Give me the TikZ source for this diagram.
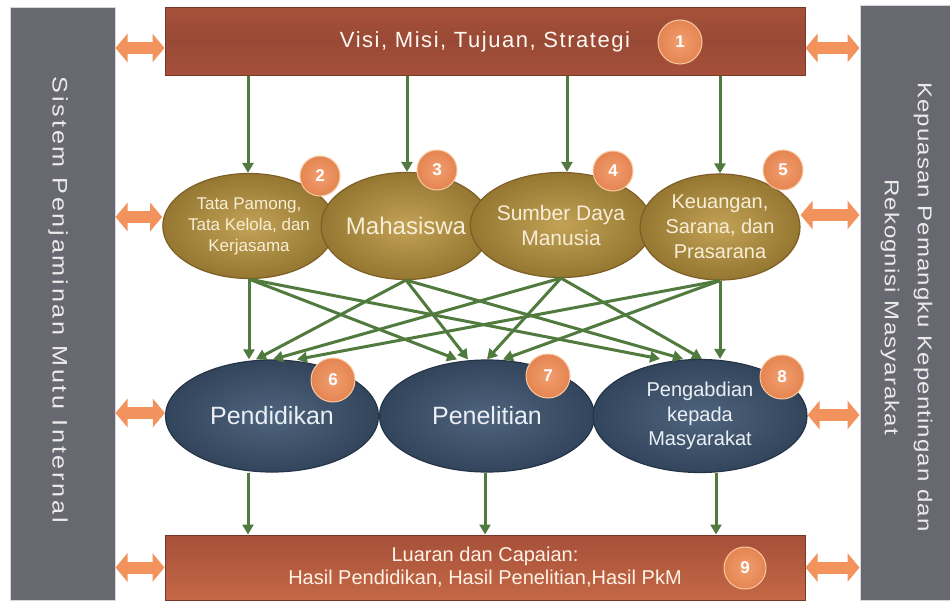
\documentclass[tikz,border=0pt]{standalone}
\usepackage{fontspec}
\setmainfont{Liberation Sans}
\usetikzlibrary{shapes.geometric,arrows.meta,calc}
\definecolor{bargray}{RGB}{104,104,112}
\definecolor{barline}{RGB}{215,215,218}
\definecolor{boxred}{RGB}{166,80,58}
\definecolor{boxredd}{RGB}{120,55,40}
\definecolor{boxredl}{RGB}{196,104,70}
\definecolor{goldf}{RGB}{186,149,62}
\definecolor{goldd}{RGB}{125,95,38}
\definecolor{navyf}{RGB}{63,86,114}
\definecolor{navyd}{RGB}{38,52,72}
\definecolor{badgeor}{RGB}{240,140,86}
\definecolor{badgeli}{RGB}{250,200,160}
\definecolor{flowgreen}{RGB}{80,122,62}
\definecolor{dblor}{RGB}{242,146,92}
\definecolor{cream}{RGB}{248,238,215}
\definecolor{paletx}{RGB}{235,240,246}
\begin{document}
\begin{tikzpicture}[x=1pt,y=-1pt,
  bar/.style={rectangle, fill=bargray, draw=barline, line width=1pt, inner sep=0pt},
  bartext/.style={text=white!92!black, inner sep=0pt},
  redbox/.style={rectangle, draw=boxredd, line width=1pt, inner sep=0pt,
                 top color=boxred, bottom color=boxred, middle color=boxred!92!black},
  goldell/.style={ellipse, draw=goldd, line width=1.2pt, inner sep=0pt, text=cream, align=center,
                  inner color=goldf!88!white, outer color=goldf!80!black},
  navyell/.style={ellipse, draw=navyd, line width=1.2pt, inner sep=0pt, text=paletx, align=center,
                  inner color=navyf!92!white, outer color=navyf!80!black},
  badge/.style={circle, draw=badgeli, line width=1pt, text=white, inner sep=0pt, minimum size=42pt,
                inner color=badgeor!85!white, outer color=badgeor!95!black,
                font=\bfseries\fontsize{17}{17}\selectfont},
  flow/.style={draw=flowgreen, line width=3pt, -{Triangle[width=11pt,length=10pt]}},
  dbl/.style={draw=dblor, line width=12pt, {Triangle[width=28pt,length=12pt]}-{Triangle[width=28pt,length=12pt]}}
]
\useasboundingbox[fill=white] (0,0) rectangle (950,602);

% side bars
\node[bar, minimum width=105pt, minimum height=592pt] (L) at (62.5,304) {};
\node[bar, minimum width=92pt, minimum height=594pt] (R) at (906,303) {};
\node[bartext, rotate=-90, font=\fontsize{21}{24}\selectfont] (Lt) at (58,300)
  {\addfontfeature{LetterSpace=11}\scalebox{1.2}[1]{Sistem Penjaminan Mutu Internal}};
\node[bartext, rotate=-90, align=center, font=\fontsize{20}{33}\selectfont] (Rt) at (906.5,307)
  {\addfontfeature{LetterSpace=4.5}\scalebox{1.2}[1]{Kepuasan Pemangku Kepentingan dan}\\
   \addfontfeature{LetterSpace=4.5}\scalebox{1.2}[1]{Rekognisi Masyarakat}};

% top and bottom boxes
\node[redbox, minimum width=640pt, minimum height=67pt, text=white!95!orange,
      font=\fontsize{22}{24}\selectfont] (V) at (485,41.5)
  {\addfontfeature{LetterSpace=7}Visi, Misi, Tujuan, Strategi};
\node[redbox, minimum width=640pt, minimum height=65pt, align=center, text=white!90!orange,
      bottom color=boxredl, font=\fontsize{20}{23}\selectfont] (B) at (485,567.5)
  {Luaran dan Capaian:\\Hasil Pendidikan, Hasil Penelitian,Hasil PkM};

% first row
\node[goldell, minimum width=162pt, minimum height=105pt, font=\fontsize{17}{21}\selectfont] (E2) at (249,226)
  {Tata Pamong,\\Tata Kelola, dan\\Kerjasama};
\node[goldell, minimum width=148pt, minimum height=107pt, font=\fontsize{24}{28}\selectfont] (E3) at (406,226)
  {Mahasiswa};
\node[goldell, minimum width=164pt, minimum height=105pt, font=\fontsize{21}{25}\selectfont] (E4) at (561,225)
  {Sumber Daya\\Manusia};
\node[goldell, minimum width=160pt, minimum height=106pt, font=\fontsize{20}{25}\selectfont] (E5) at (720,227)
  {Keuangan,\\Sarana, dan\\Prasarana};

% second row
\node[navyell, minimum width=213pt, minimum height=112pt, font=\fontsize{25}{28}\selectfont] (E6) at (272,416)
  {Pendidikan};
\node[navyell, minimum width=215pt, minimum height=112pt, font=\fontsize{25}{28}\selectfont] (E7) at (487,416)
  {Penelitian};
\node[navyell, minimum width=214pt, minimum height=113pt, font=\fontsize{20}{24.5}\selectfont] (E8) at (700,416)
  {Pengabdian\\kepada\\Masyarakat};

% badges
\node[badge, minimum size=44pt] (n1) at (680,42) {1};
\node[badge, minimum size=40pt] (n2) at (320,176) {2};
\node[badge, minimum size=40pt] (n3) at (437,170) {3};
\node[badge, minimum size=40pt] (n4) at (613,171) {4};
\node[badge, minimum size=40pt] (n5) at (783,170) {5};
\node[badge, minimum size=44pt] (n6) at (333,380) {6};
\node[badge, minimum size=44pt] (n7) at (548,376) {7};
\node[badge, minimum size=44pt] (n8) at (782,377) {8};
\node[badge, minimum size=42pt] (n9) at (745,568) {9};

% arrows top box -> first row
\coordinate (a2) at ([xshift=-1pt]E2.north);
\coordinate (a3) at ([xshift=1pt]E3.north);
\coordinate (a4) at ([xshift=6pt]E4.north);
\coordinate (a5) at (E5.north);
\foreach \c in {a2,a3,a4,a5} \draw[flow] (\c |- V.south) -- (\c);

% cross arrows first row -> second row
\draw[flow] (E2.south) -- ([xshift=-23pt]E6.north);
\draw[flow] (E3.south) -- ([xshift=-16pt]E6.north);
\draw[flow] (E4.south) -- ([xshift=1pt]E6.north);
\draw[flow] (E5.south) -- ([xshift=25pt]E6.north);
\draw[flow] (E2.south) -- ([xshift=-30pt]E7.north);
\draw[flow] (E3.south) -- ([xshift=-19pt]E7.north);
\draw[flow] (E4.south) -- ([xshift=0pt]E7.north);
\draw[flow] (E5.south) -- ([xshift=16pt]E7.north);
\draw[flow] (E2.south) -- ([xshift=-40pt]E8.north);
\draw[flow] (E3.south) -- ([xshift=-17pt]E8.north);
\draw[flow] (E4.south) -- ([xshift=2pt]E8.north);
\draw[flow] (E5.south) -- ([xshift=20pt]E8.north);

% second row -> bottom box
\coordinate (s6) at ([xshift=-24pt]E6.south);
\coordinate (s7) at ([xshift=-2pt]E7.south);
\coordinate (s8) at ([xshift=16pt]E8.south);
\foreach \c in {s6,s7,s8} \draw[flow] (\c) -- (\c |- B.north);

% double arrows to side bars
\coordinate (d1l) at ([yshift=-6.5pt]V.west);
\coordinate (d1r) at ([yshift=-6.5pt]V.east);
\coordinate (d2l) at ([yshift=9pt]E2.west);
\coordinate (d2r) at ([yshift=12pt]E5.east);
\coordinate (d3l) at ([yshift=3pt]E6.west);
\coordinate (d3r) at ([yshift=1pt]E8.east);
\coordinate (d4l) at (B.west);
\coordinate (d4r) at (B.east);
\foreach \c in {d1l,d2l,d3l,d4l} \draw[dbl] (\c -| L.east) -- (\c);
\foreach \c in {d1r,d2r,d3r,d4r} \draw[dbl] (\c) -- (\c -| R.west);
\end{tikzpicture}
\end{document}
